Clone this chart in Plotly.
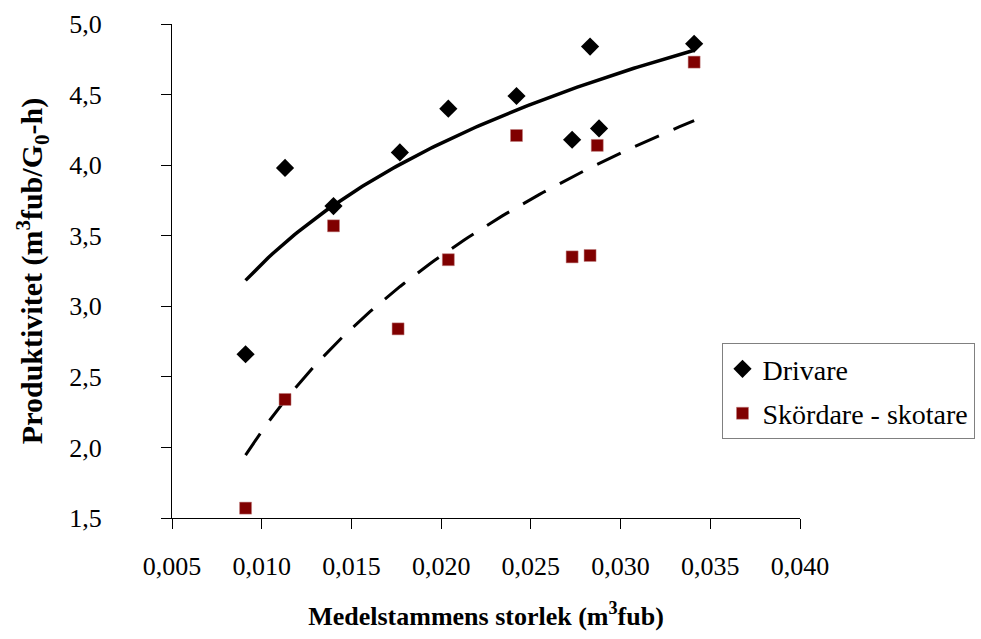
import numpy as np
import plotly.graph_objects as go

# Data
x_drivare = [0.0091, 0.0113, 0.0140, 0.0177, 0.0204, 0.0242, 0.0273, 0.0283, 0.0288, 0.0341]
y_drivare = [2.66, 3.98, 3.71, 4.09, 4.40, 4.49, 4.18, 4.84, 4.26, 4.86]
x_skord = [0.0091, 0.0113, 0.0140, 0.0176, 0.0204, 0.0242, 0.0273, 0.0283, 0.0287, 0.0341]
y_skord = [1.57, 2.34, 3.57, 2.84, 3.33, 4.21, 3.35, 3.36, 4.14, 4.73]

x_ticks = [0.005, 0.010, 0.015, 0.020, 0.025, 0.030, 0.035, 0.040]
x_ticktext = ["0,005", "0,010", "0,015", "0,020", "0,025", "0,030", "0,035", "0,040"]
y_ticks = [1.5, 2.0, 2.5, 3.0, 3.5, 4.0, 4.5, 5.0]
y_ticktext = ["1,5", "2,0", "2,5", "3,0", "3,5", "4,0", "4,5", "5,0"]

FONT = "Liberation Serif, Times New Roman, serif"


def log_trend(xs, ys, n=120):
    xs = np.asarray(xs)
    ys = np.asarray(ys)
    b, a = np.polyfit(np.log(xs), ys, 1)
    xx = np.linspace(xs.min(), xs.max(), n)
    return xx, a + b * np.log(xx)


tx1, ty1 = log_trend(x_drivare, y_drivare)
tx2, ty2 = log_trend(x_skord, y_skord)

fig = go.Figure()
fig.add_trace(go.Scatter(x=tx1, y=ty1, mode="lines", line=dict(color="black", width=3.5),
                         showlegend=False, hoverinfo="skip"))
fig.add_trace(go.Scatter(x=tx2, y=ty2, mode="lines",
                         line=dict(color="black", width=3, dash="26px,16px"),
                         showlegend=False, hoverinfo="skip"))
fig.add_trace(go.Scatter(x=x_drivare, y=y_drivare, mode="markers", name="Drivare",
                         legendgroup="a",
                         marker=dict(symbol="diamond", size=14, color="black")))
fig.add_trace(go.Scatter(x=x_skord, y=y_skord, mode="markers", name="Skördare - skotare",
                         legendgroup="b",
                         marker=dict(symbol="square", size=12, color="#800000",
                                     line=dict(color="#c08080", width=0.5))))

fig.update_layout(
    width=981, height=639,
    margin=dict(l=171.5, r=180.5, t=24, b=121, autoexpand=False),
    paper_bgcolor="white", plot_bgcolor="white",
    font=dict(family=FONT, size=26, color="black"),
    showlegend=True,
    legend=dict(x=0.875, y=0.354, xanchor="left", yanchor="top",
                bordercolor="#808080", borderwidth=1, bgcolor="white",
                tracegroupgap=5,
                font=dict(family=FONT, size=28, color="black")),
    xaxis=dict(range=[0.005, 0.040], tickvals=x_ticks, ticktext=x_ticktext,
               automargin=False,
               showgrid=False, zeroline=False, showline=True, linecolor="black", linewidth=1,
               ticks="outside", ticklen=10, tickcolor="black",
               tickfont=dict(family=FONT, size=26), ticklabelstandoff=15,
               title=dict(text="<b>Medelstammens storlek (m<sup>3</sup>fub)</b>",
                          font=dict(family=FONT, size=26), standoff=26)),
    yaxis=dict(range=[1.5, 5.0], tickvals=y_ticks, ticktext=y_ticktext,
               automargin=False,
               showgrid=False, zeroline=False, showline=True, linecolor="black", linewidth=1,
               ticks="outside", ticklen=10, tickcolor="black",
               tickfont=dict(family=FONT, size=26), ticklabelstandoff=54,
               title=dict(text="<b>Produktivitet (m<sup>3</sup>fub/G<sub>0</sub>-h)</b>",
                          font=dict(family=FONT, size=30), standoff=17)),
)

fig.write_html("out.html")
